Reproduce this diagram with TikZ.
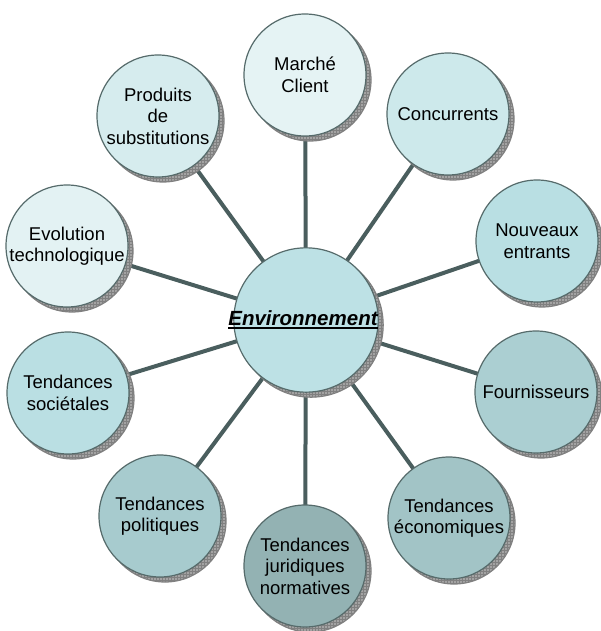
\documentclass[tikz,border=0pt]{standalone}
\usepackage{fontspec}
\setmainfont{Liberation Sans}
\usetikzlibrary{shadows,patterns}
\pgfdeclarelayer{bg}
\pgfsetlayers{bg,main}
\definecolor{edgec}{HTML}{566B6B}
\definecolor{linkc}{HTML}{4A5E5E}
\definecolor{shadowc}{HTML}{A3A3A3}
\definecolor{shadowd}{HTML}{808080}
\definecolor{cMarche}{HTML}{E5F3F4}
\definecolor{cConc}{HTML}{CDE9EB}
\definecolor{cNouv}{HTML}{B9DFE3}
\definecolor{cFourn}{HTML}{ABCFD2}
\definecolor{cEco}{HTML}{A2C4C6}
\definecolor{cJur}{HTML}{93B2B3}
\definecolor{cPol}{HTML}{A7CBCE}
\definecolor{cSoc}{HTML}{BADFE3}
\definecolor{cEvol}{HTML}{E3F2F3}
\definecolor{cProd}{HTML}{D6ECEE}
\definecolor{cEnv}{HTML}{BDE1E5}
\newcommand\thickul[1]{\setbox0\hbox{#1}\rlap{\rule[-3.5pt]{\wd0}{1.8pt}}\box0}
\tikzset{
  bubble/.style={circle, draw=edgec, line width=1.2pt, minimum size=122pt,
    inner sep=0pt, align=center, text=black,
    font=\fontsize{18.5}{21.5}\selectfont,
    drop shadow={shadow xshift=5pt, shadow yshift=-5pt, fill=shadowc, draw=shadowd, opacity=1},
    drop shadow={shadow xshift=5pt, shadow yshift=-5pt, pattern=grid, pattern color=shadowd, opacity=1}},
  link/.style={draw=linkc, line width=4pt}
}
\begin{document}
\begin{tikzpicture}[x=1pt,y=-1pt]
\useasboundingbox (0,0) rectangle (600,631);
\node[bubble, fill=cEnv, minimum size=120pt] (env) at (306,320)
  {\hspace*{-6pt}\fontsize{20.5}{24}\selectfont\bfseries\itshape\thickul{Environnement}};
\node[bubble, fill=cMarche] (marche) at (305,75) {Marché\\Client};
\node[bubble, fill=cConc] (conc) at (448,114) {Concurrents};
\node[bubble, fill=cNouv] (nouv) at (537,241) {Nouveaux\\entrants};
\node[bubble, fill=cFourn] (fourn) at (536,392) {Fournisseurs};
\node[bubble, fill=cEco] (eco) at (449,518) {Tendances\\économiques};
\node[bubble, fill=cJur] (jur) at (305,566) {Tendances\\juridiques\\normatives};
\node[bubble, fill=cPol] (pol) at (160,516) {Tendances\\politiques};
\node[bubble, fill=cSoc] (soc) at (68,393) {Tendances\\sociétales};
\node[bubble, fill=cEvol] (evol) at (67,246) {Evolution\\technologique};
\node[bubble, fill=cProd] (prod) at (158,116) {Produits\\de\\substitutions};
\begin{pgfonlayer}{bg}
  \foreach \n in {marche,conc,nouv,fourn,eco,jur,pol,soc,evol,prod}
    \draw[link] (env.center) -- (\n.center);
\end{pgfonlayer}
\end{tikzpicture}
\end{document}
